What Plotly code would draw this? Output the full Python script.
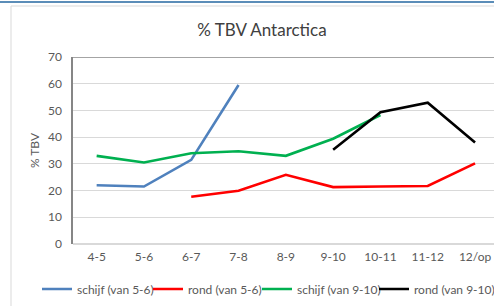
import plotly.graph_objects as go

categories = ["4-5", "5-6", "6-7", "7-8", "8-9", "9-10", "10-11", "11-12", "12/op"]
schijf_56 = [22.0, 21.5, 31.5, 59.5, None, None, None, None, None]
rond_56 = [None, None, 17.7, 19.9, 25.9, 21.3, 21.5, 21.7, 30.2]
schijf_910 = [33.0, 30.5, 34.0, 34.7, 33.0, 39.4, 48.3, None, None]
rond_910 = [None, None, None, None, None, 35.3, 49.3, 52.9, 38.0]

series = [
    ("schijf (van 5-6)", schijf_56, "#4F81BD", 66),
    ("rond (van 5-6)", rond_56, "#FF0000", 64),
    ("schijf (van 9-10)", schijf_910, "#00B050", 72),
    ("rond (van 9-10)", rond_910, "#000000", 80),
]

FONT = "Lato"
GREY = "#595959"
W, H = 494, 306
L, R, T, B = 73, 0, 57, 62
PW, PH = W - L - R, H - T - B

fig = go.Figure()
for name, vals, col, lw in series:
    fig.add_trace(go.Scatter(x=categories, y=vals, name=name, mode="lines",
                             line=dict(color=col, width=2.6), connectgaps=False,
                             legendwidth=lw))

fig.update_layout(
    width=W, height=H,
    margin=dict(l=L, r=R, t=T, b=B, autoexpand=False),
    paper_bgcolor="white", plot_bgcolor="white",
    font=dict(family=FONT, size=12, color=GREY),
    title=dict(text="% TBV Antarctica", x=262/W, xanchor="center", xref="container",
               y=1-30/H, yanchor="middle", yref="container",
               font=dict(size=17, color="#404040", family=FONT)),
    showlegend=True,
    legend=dict(orientation="h", xref="paper", yref="paper",
                x=(37-L)/PW, xanchor="left", y=(H-B-289)/PH, yanchor="middle",
                font=dict(size=12, color=GREY, family=FONT),
                itemwidth=30, tracegroupgap=0),
    xaxis=dict(type="category", range=[-0.5, -0.5 + PW/47.3], showgrid=False, showline=False,
               automargin=False, ticks="", ticklabelstandoff=4,
               tickfont=dict(size=12, color=GREY)),
    yaxis=dict(range=[0, 70], dtick=10, showgrid=True, gridcolor="#D9D9D9", gridwidth=1,
               automargin=False,
               showline=True, linecolor="#868686", linewidth=1.5, zeroline=True,
               zerolinecolor="#D9D9D9", ticks="", ticklabelstandoff=7,
               tickfont=dict(size=12, color=GREY),
               title=dict(text="% TBV", standoff=6, font=dict(size=12, color=GREY))),
)

# plot-area top border and chart frame
fig.add_shape(type="line", xref="paper", yref="y", x0=0, x1=1, y0=70, y1=70,
              line=dict(color="#868686", width=1.5))
fig.add_shape(type="line", xref="paper", yref="paper", x0=(0-L)/PW, x1=1,
              y0=1+(T-2)/PH, y1=1+(T-2)/PH, line=dict(color="#5B8DB8", width=2))
fig.add_shape(type="line", xref="paper", yref="paper", x0=(11-L)/PW, x1=1,
              y0=1+(T-6)/PH, y1=1+(T-6)/PH, line=dict(color="#D9D9D9", width=1))
fig.add_shape(type="line", xref="paper", yref="paper", x0=(11-L)/PW, x1=(11-L)/PW,
              y0=1+(T-6)/PH, y1=-B/PH, line=dict(color="#D9D9D9", width=1))

fig.write_html("out.html", config={"displayModeBar": False},
               post_script="document.body.style.margin='0';")
